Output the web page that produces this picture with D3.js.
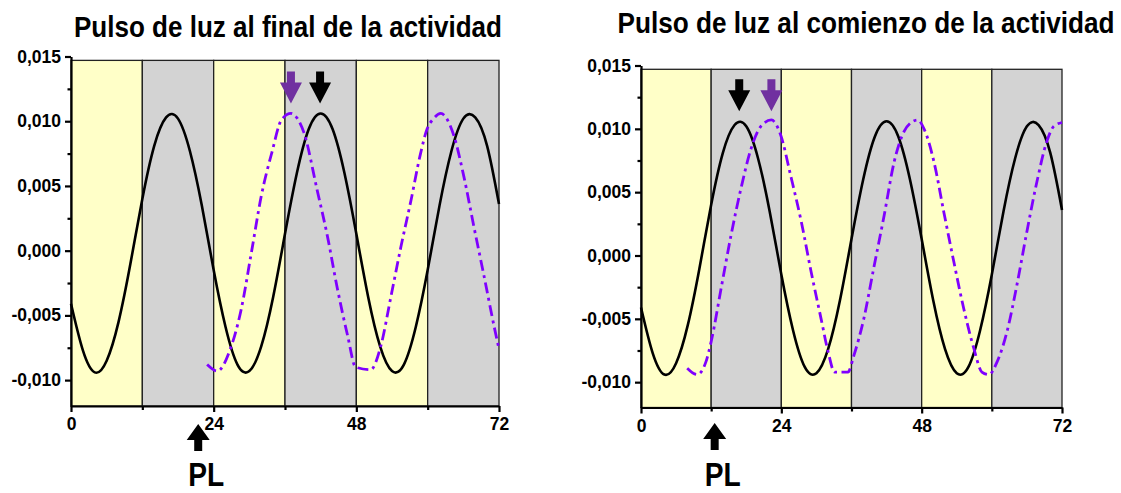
<!DOCTYPE html>
<html>
<head>
<meta charset="utf-8">
<script src="https://cdn.jsdelivr.net/npm/d3@7"></script>
<style>
  body { margin: 0; background: #fff; }
  svg text { font-family: "Liberation Sans", Arial, sans-serif; font-weight: bold; fill: #000; }
</style>
</head>
<body>
<svg width="1121" height="493"></svg>
<script>
"use strict";

// ---- data ----
const titulos = ["Pulso de luz al final de la actividad", "Pulso de luz al comienzo de la actividad"];

// solid black rhythm (same in both panels)
const horasControl = [0, 2, 4, 6, 8, 10, 12, 14, 16, 18, 20, 22, 24, 26, 28, 30, 32, 34, 36,
  38, 40, 42, 44, 46, 48, 50, 52, 54, 56, 58, 60, 62, 64, 66, 68, 70, 72];
const valoresControl = [-0.0041, -0.0077, -0.0094, -0.0085, -0.0055, -0.0010, 0.0040, 0.0081, 0.0103,
  0.0102, 0.0077, 0.0035, -0.0015, -0.0059, -0.0088, -0.0093, -0.0074, -0.0036, 0.0013,
  0.0060, 0.0094, 0.0106, 0.0094, 0.0060, 0.0013, -0.0036, -0.0074, -0.0093, -0.0088,
  -0.0059, -0.0015, 0.0035, 0.0077, 0.0102, 0.0103, 0.0081, 0.0036];

// purple dash-dot rhythm, pulse at end of activity
const horasPulsoFinal = [22.9, 24.6, 26.8, 28.6, 30.4, 32.0, 33.8, 35.4, 37.0, 38.1, 39.2, 41.4,
  43.1, 44.8, 46.5, 47.9, 50.4, 52.1, 53.8, 55.5, 57.2, 58.8, 59.9, 61.0, 62.2, 64.4, 66.1,
  67.8, 69.5, 71.2, 72];
const valoresPulsoFinal = [-0.0088, -0.0093, -0.0076, -0.0046, 0.0000, 0.0042, 0.0076, 0.0101,
  0.0106, 0.0102, 0.0091, 0.0047, 0.0012, -0.0029, -0.0065, -0.0090, -0.0092, -0.0074,
  -0.0036, 0.0003, 0.0039, 0.0075, 0.0094, 0.0102, 0.0106, 0.0089, 0.0057, 0.0018,
  -0.0020, -0.0059, -0.0076];

// purple dash-dot rhythm, pulse at start of activity
const horasPulsoComienzo = [7.9, 9.6, 11.1, 12.0, 13.7, 15.4, 17.1, 18.8, 20.5, 22.3, 23.9, 25.6,
  27.4, 29.1, 30.8, 32.0, 33.1, 35.4, 36.4, 38.1, 39.8, 41.6, 43.3, 45.0, 46.2, 47.3, 48.4,
  50.1, 51.8, 53.5, 55.2, 56.9, 58.3, 59.5, 60.9, 62.6, 64.3, 66.0, 67.7, 69.4, 70.6, 72];
const valoresPulsoComienzo = [-0.0089, -0.0094, -0.0084, -0.0068, -0.0026, 0.0016, 0.0053, 0.0084,
  0.0102, 0.0107, 0.0095, 0.0063, 0.0027, -0.0013, -0.0050, -0.0076, -0.0092, -0.0092,
  -0.0079, -0.0050, -0.0010, 0.0032, 0.0074, 0.0098, 0.0105, 0.0107, 0.0100, 0.0074,
  0.0034, -0.0005, -0.0042, -0.0073, -0.0092, -0.0094, -0.0084, -0.0060, -0.0023, 0.0019,
  0.0058, 0.0090, 0.0102, 0.0105];

// light / dark bands (hours)
const bandasInicio = [0, 12, 24, 36, 48, 60];
const bandasFin = [12, 24, 36, 48, 60, 72];
const bandasTipo = ["luz", "oscuridad", "luz", "oscuridad", "luz", "oscuridad"];

const ticksX = [0, 24, 48, 72];
const ticksXMenores = [12, 36, 60];
const ticksY = [-0.010, -0.005, 0.000, 0.005, 0.010, 0.015];
const ticksYMenores = [-0.0075, -0.0025, 0.0025, 0.0075, 0.0125];

// arrows: [hour marked by purple arrow, hour marked by black arrow], light pulse hour
const flechasFinal = [37.0, 41.9];
const flechasComienzo = [22.3, 16.8];
const pulsoLuz = [21.4, 12.6];
const picoValor = 0.0106;
const techoBandas = 0.0147;

// ---- drawing ----
const svg = d3.select("svg");
const locale = d3.formatLocale({ decimal: ",", thousands: ".", grouping: [3], currency: ["", ""], minus: "-" });
const fmt = locale.format(".3f");

const colorLuz = "#FFFFC8";
const colorOsc = "#D3D3D3";
const colorPulso = "#7F00FF";
const colorFlecha = "#7030A0";

const panels = [
  { x0: 71, x1: 499, yTop: 56.5, yBot: 406, titleX: 288, titleY: 37, titleW: 428,
    horas: horasPulsoFinal, valores: valoresPulsoFinal, flechas: flechasFinal, pl: pulsoLuz[0],
    plTip: 424, plLabelY: 486, titulo: titulos[0] },
  { x0: 641, x1: 1062, yTop: 65.5, yBot: 407.5, titleX: 866, titleY: 33, titleW: 497,
    horas: horasPulsoComienzo, valores: valoresPulsoComienzo, flechas: flechasComienzo, pl: pulsoLuz[1],
    plTip: 423, plLabelY: 486, titulo: titulos[1] }
];

const downArrow = (cx, tipY) => {
  const hw = 11, sw = 4, head = 21, shaft = 11;
  return `M${cx - sw},${tipY - head - shaft} L${cx + sw},${tipY - head - shaft} L${cx + sw},${tipY - head}` +
    ` L${cx + hw},${tipY - head} L${cx},${tipY} L${cx - hw},${tipY - head} L${cx - sw},${tipY - head} Z`;
};
const upArrow = (cx, tipY) => {
  const hw = 11.5, sw = 4, head = 16, shaft = 11;
  return `M${cx},${tipY} L${cx + hw},${tipY + head} L${cx + sw},${tipY + head} L${cx + sw},${tipY + head + shaft}` +
    ` L${cx - sw},${tipY + head + shaft} L${cx - sw},${tipY + head} L${cx - hw},${tipY + head} Z`;
};

// condensed text: squeeze horizontally to the width seen in the picture
const condensed = (parent, str, cx, baseY, size, width) => {
  const t = parent.append("text")
    .attr("text-anchor", "middle")
    .attr("font-size", size)
    .text(str);
  const natural = t.node().getComputedTextLength();
  const sx = Math.min(1, width / natural);
  t.attr("transform", `translate(${cx},${baseY}) scale(${sx},1)`);
  return t;
};

panels.forEach(p => {
  const xScale = d3.scaleLinear().domain([0, 72]).range([p.x0, p.x1]);
  const yScale = d3.scaleLinear().domain([-0.012, 0.015]).range([p.yBot, p.yTop]);
  const g = svg.append("g");

  // bands
  g.selectAll("rect.banda")
    .data(bandasInicio.map((d, i) => ({ ini: d, fin: bandasFin[i], tipo: bandasTipo[i] })))
    .enter()
    .append("rect")
    .attr("class", "banda")
    .attr("x", d => xScale(d.ini))
    .attr("y", yScale(techoBandas))
    .attr("width", d => xScale(d.fin) - xScale(d.ini))
    .attr("height", yScale(-0.012) - yScale(techoBandas))
    .attr("fill", d => d.tipo === "luz" ? colorLuz : colorOsc)
    .attr("stroke", "#222")
    .attr("stroke-width", 1.3);

  const line = d3.line()
    .x(d => xScale(d[0]))
    .y(d => yScale(d[1]));

  g.append("path")
    .datum(horasControl.map((h, i) => [h, valoresControl[i]]))
    .attr("d", line.curve(d3.curveNatural))
    .attr("fill", "none")
    .attr("stroke", "#000")
    .attr("stroke-width", 2.6);

  g.append("path")
    .datum(p.horas.map((h, i) => [h, p.valores[i]]))
    .attr("d", line.curve(d3.curveMonotoneX))
    .attr("fill", "none")
    .attr("stroke", colorPulso)
    .attr("stroke-width", 2.8)
    .attr("stroke-dasharray", "11 4.5 3 4.5");

  // axes
  const yAxis = d3.axisLeft(yScale).tickValues(ticksY).tickFormat(fmt)
    .tickSize(6).tickPadding(4).tickSizeOuter(0);
  const yAxisMin = d3.axisLeft(yScale).tickValues(ticksYMenores).tickFormat("").tickSize(3.5);
  const xAxis = d3.axisBottom(xScale).tickValues(ticksX).tickFormat(d3.format("d"))
    .tickSize(6).tickPadding(6).tickSizeOuter(0);
  const xAxisMin = d3.axisBottom(xScale).tickValues(ticksXMenores).tickFormat("").tickSize(4);

  g.append("g").attr("transform", `translate(${p.x0},0)`).call(yAxis);
  g.append("g").attr("transform", `translate(${p.x0},0)`).call(yAxisMin).select(".domain").remove();
  g.append("g").attr("transform", `translate(0,${p.yBot})`).call(xAxis);
  g.append("g").attr("transform", `translate(0,${p.yBot})`).call(xAxisMin).select(".domain").remove();

  g.selectAll(".domain, .tick line").attr("stroke", "#000").attr("stroke-width", 2.2);
  g.selectAll(".tick text").attr("font-size", 17.5).style("font-weight", "bold");

  // peak arrows
  g.append("path").attr("d", downArrow(xScale(p.flechas[0]), yScale(picoValor) - 10)).attr("fill", colorFlecha);
  g.append("path").attr("d", downArrow(xScale(p.flechas[1]), yScale(picoValor) - 10)).attr("fill", "#000");

  // light pulse arrow + label
  g.append("path").attr("d", upArrow(xScale(p.pl), p.plTip)).attr("fill", "#000");
  condensed(g, "PL", xScale(p.pl) + 8, p.plLabelY, 33, 36);

  // title
  condensed(g, p.titulo, p.titleX, p.titleY, 29, p.titleW);
});
</script>
</body>
</html>
